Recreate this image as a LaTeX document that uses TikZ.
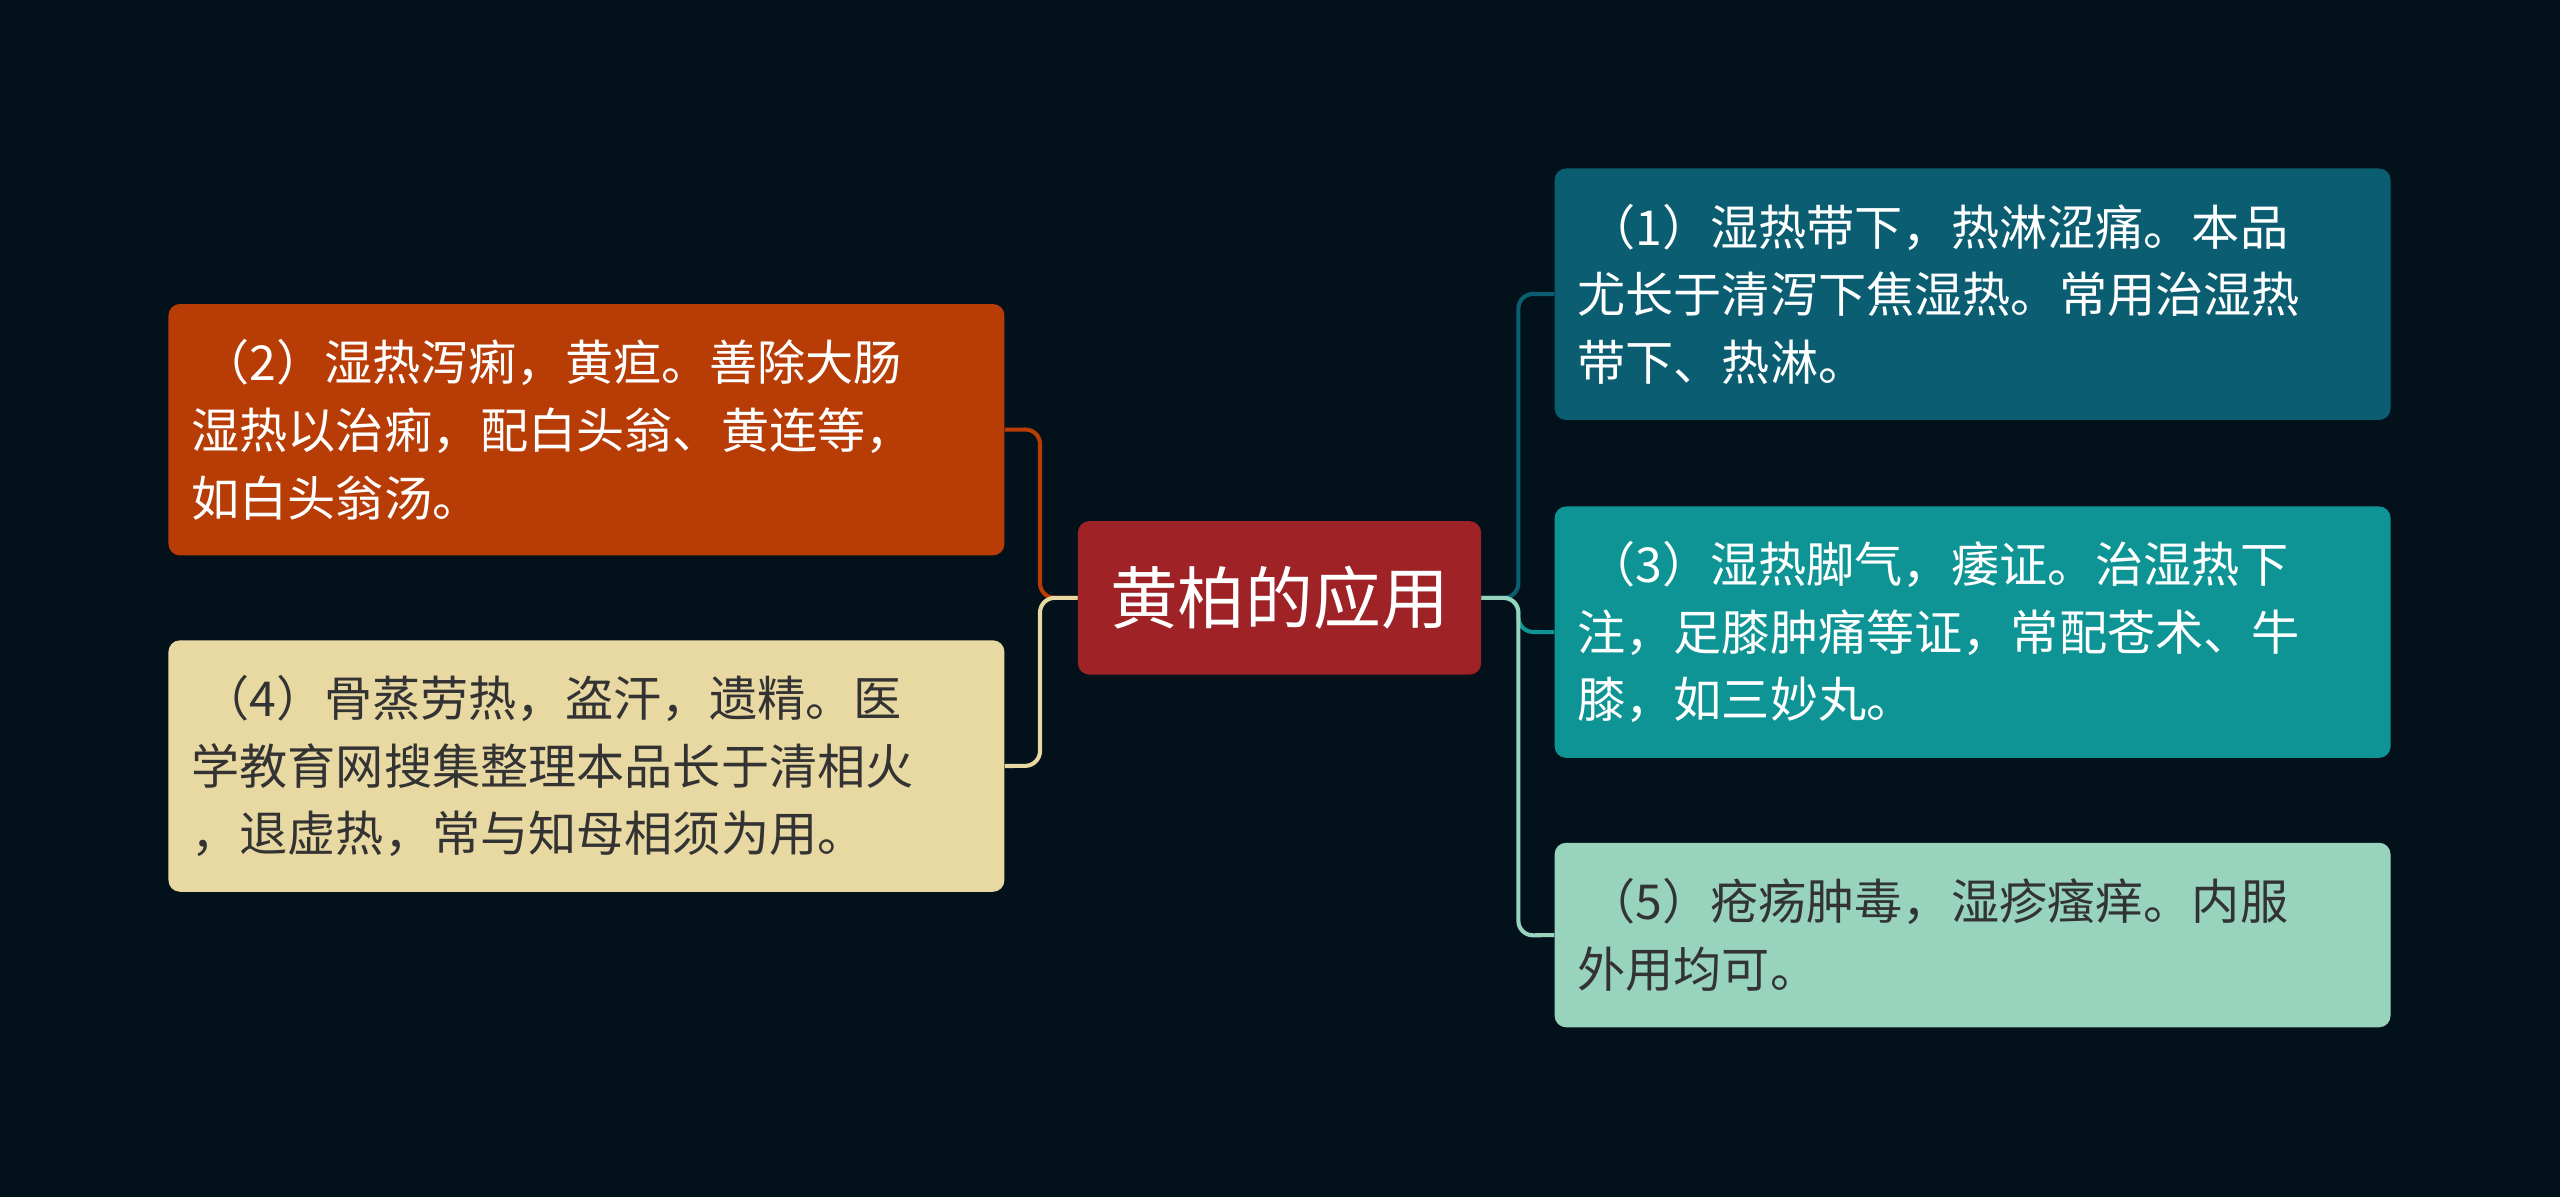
\documentclass[tikz,border=0pt]{standalone}
\usepackage{fontspec}
\setmainfont{Noto Sans CJK SC}
\begin{document}
\begin{tikzpicture}[x=1pt,y=-1pt,
 box/.style={rounded corners=7pt,minimum width=512pt,text width=500pt,align=left,inner sep=0pt,font=\fontsize{29.5}{41.5}\selectfont,anchor=north west},
 link/.style={line width=2.5pt,rounded corners=9pt}]
\definecolor{bg}{HTML}{03111A}
\definecolor{cred}{HTML}{9E2226}
\definecolor{corg}{HTML}{B83C06}
\definecolor{ccrm}{HTML}{E8D8A2}
\definecolor{cdt}{HTML}{0B5E72}
\definecolor{ctl}{HTML}{0E9494}
\definecolor{cmn}{HTML}{97D3BD}
\fill[bg] (0,0) rectangle (1568,733);
\useasboundingbox (0,0) rectangle (1568,733);
\node[fill=cred,rounded corners=7pt,minimum width=247pt,minimum height=94pt,text=white,font=\fontsize{41.5}{48}\selectfont,anchor=north west,inner sep=0pt] (c) at (660,319) {黄柏的应用};
\node[box,fill=corg,text=white,minimum height=154pt] (l1) at (103,186) {\hspace*{14pt}（2）湿热泻痢，黄疸。善除大肠\\\hspace*{8pt}湿热以治痢，配白头翁、黄连等，\\\hspace*{8pt}如白头翁汤。};
\node[box,fill=ccrm,text=black!80,minimum height=154pt] (l2) at (103,392) {\hspace*{14pt}（4）骨蒸劳热，盗汗，遗精。医\\\hspace*{8pt}学教育网搜集整理本品长于清相火\\\hspace*{8pt}，退虚热，常与知母相须为用。};
\node[box,fill=cdt,text=white,minimum height=154pt] (r1) at (952,103) {\hspace*{14pt}（1）湿热带下，热淋涩痛。本品\\\hspace*{8pt}尤长于清泻下焦湿热。常用治湿热\\\hspace*{8pt}带下、热淋。};
\node[box,fill=ctl,text=white,minimum height=154pt] (r2) at (952,310) {\hspace*{14pt}（3）湿热脚气，痿证。治湿热下\\\hspace*{8pt}注，足膝肿痛等证，常配苍术、牛\\\hspace*{8pt}膝，如三妙丸。};
\node[box,fill=cmn,text=black!80,minimum height=113pt] (r3) at (952,516) {\hspace*{14pt}（5）疮疡肿毒，湿疹瘙痒。内服\\\hspace*{8pt}外用均可。};
\draw[link,corg] (c.west) -| (637,263) -- (l1.east);
\draw[link,ccrm] (c.west) -| (637,469) -- (l2.east);
\draw[link,cdt] (c.east) -| (930,180) -- (r1.west);
\draw[link,ctl] (c.east) -| (930,387) -- (r2.west);
\draw[link,cmn] (c.east) -| (930,573) -- (r3.west);
\end{tikzpicture}
\end{document}
